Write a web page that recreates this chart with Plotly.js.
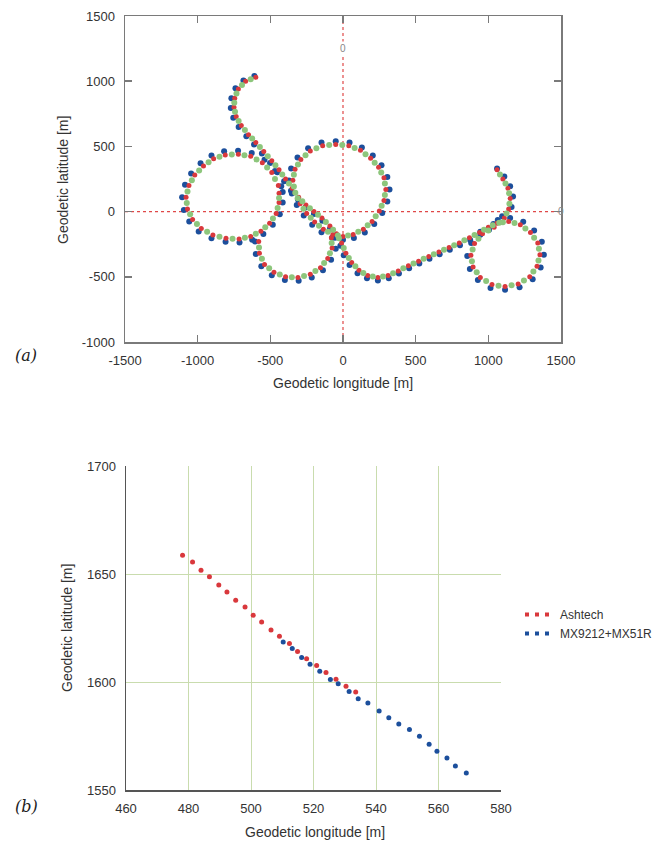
<!DOCTYPE html>
<html><head><meta charset="utf-8">
<script src="https://cdn.plot.ly/plotly-3.0.1.min.js"></script>
<style>html,body{margin:0;padding:0;background:#fff}#chart{width:672px;height:843px}</style>
</head><body><div id="chart"></div>
<script>
// ---- (a) trajectory, three receivers ----
const redX = [-600,-670,-720,-745,-750,-735,-700,-650,-600,-545,-490,-440,-395,-350,-305,-255,-200,-145,-90,-45,-10,
 20,60,110,170,240,310,380,450,520,590,660,730,800,870,940,1000,
 1060,1140,1220,1290,1340,1355,1335,1285,1205,1115,1025,945,895,880,905,960,1040,1110,1140,1150,1135,1100,1060,
 -345,-330,-290,-225,-140,-50,40,120,190,245,282,295,282,250,200,140,70,0,-70,-135,-195,-250,-295,-330,
 -445,-490,-555,-635,-720,-810,-890,-960,-1020,-1060,-1080,-1070,-1035,-975,-895,-805,-715,-635,-565,-505,-460,-440,-440,
 -580,-575,-540,-475,-395,-310,-225,-155,-105,-75,-80];
const redY = [1030,1000,940,870,800,730,660,590,530,460,390,320,250,180,110,50,0,-50,-110,-170,-240,
 -320,-390,-450,-490,-505,-490,-455,-415,-380,-345,-310,-275,-240,-200,-160,-120,
 -90,-75,-100,-160,-240,-330,-420,-500,-555,-575,-560,-505,-425,-335,-245,-170,-120,-50,20,100,180,250,320,
 240,325,400,465,505,515,505,470,410,340,260,170,85,5,-75,-135,-175,-190,-175,-135,-80,-15,60,145,
 200,300,375,425,440,435,405,350,280,200,110,20,-60,-130,-180,-205,-210,-190,-150,-90,-15,70,140,
 -230,-320,-405,-465,-500,-505,-480,-430,-360,-280,-200];

const greenX = [-635,-695,-733,-748,-743,-718,-675,-625,-572,-518,-465,-418,-372,-328,-280,-228,-172,-118,-68,-28,
 5,40,85,140,205,275,345,415,485,555,625,695,765,835,905,970,1030,
 1100,1180,1255,1315,1348,1345,1310,1245,1160,1070,985,920,887,892,932,1000,1075,1125,1145,1143,1118,1080,
 -338,-310,-258,-183,-95,-5,80,155,218,263,288,288,266,225,170,105,35,-35,-103,-165,-222,-272,-312,-338,
 -468,-522,-595,-678,-765,-850,-925,-990,-1040,-1070,-1075,-1052,-1005,-935,-850,-760,-675,-600,-535,-482,-450,-440,
 -578,-558,-508,-435,-352,-268,-190,-130,-90,-78];
const greenY = [1015,970,905,835,765,695,625,560,495,425,355,285,215,145,80,25,-25,-80,-140,-205,
 -280,-355,-420,-470,-498,-498,-473,-435,-398,-362,-328,-292,-258,-220,-180,-140,-105,
 -82,-88,-130,-200,-285,-375,-460,-528,-565,-568,-532,-465,-380,-290,-208,-145,-85,-15,60,140,215,285,
 282,362,432,485,510,510,488,440,375,300,215,128,45,-35,-105,-155,-183,-183,-155,-108,-48,22,102,192,
 250,338,400,433,438,420,378,315,240,155,65,-20,-95,-155,-193,-208,-200,-170,-120,-52,28,105,
 -275,-362,-435,-483,-503,-493,-455,-395,-320,-240];

const blueX = [-610,-685,-740,-768,-772,-755,-718,-665,-612,-558,-502,-452,-405,-358,-310,-258,-200,-142,-90,-48,-18,
 5,45,100,165,240,315,385,455,525,595,665,735,805,875,945,1005,
 1065,1150,1240,1315,1368,1382,1360,1305,1215,1115,1015,928,873,855,882,945,1035,1095,1160,1170,1150,1110,1060,
 -372,-357,-313,-240,-148,-50,45,130,205,265,305,320,305,270,215,150,75,0,-75,-148,-212,-270,-318,-352,
 -425,-468,-540,-628,-722,-818,-905,-980,-1045,-1087,-1107,-1095,-1058,-993,-905,-808,-712,-625,-548,-483,-435,-415,-415,
 -605,-600,-562,-490,-400,-305,-215,-138,-82,-50,-55];
const blueY = [1040,1005,945,870,795,720,648,578,515,445,372,302,232,160,92,32,-18,-70,-132,-195,-262,
 -335,-410,-472,-512,-528,-512,-475,-435,-398,-362,-328,-292,-258,-218,-178,-140,
 -65,-50,-78,-145,-232,-330,-428,-518,-580,-600,-585,-525,-440,-340,-240,-155,-95,-35,35,115,195,270,330,
 238,330,415,485,530,540,530,492,430,355,265,170,78,-10,-95,-160,-202,-215,-200,-158,-100,-30,50,138,
 195,312,398,450,467,462,430,370,292,205,110,12,-75,-152,-205,-232,-237,-215,-172,-100,-20,70,150,
 -230,-325,-420,-488,-525,-530,-505,-450,-370,-285,-200];

// ---- (b) zoomed detail ----
const ashX = [478.1,481.3,484.0,486.7,489.7,492.3,495.1,498.1,500.7,503.4,506.4,509.1,512.3,514.9,517.8,521.0,524.0,527.2,530.4,533.5];
const ashY = [1658.7,1655.6,1651.7,1648.7,1644.9,1641.7,1637.8,1634.7,1630.9,1627.8,1624.1,1621.2,1617.8,1614.1,1610.8,1607.6,1604.4,1601.3,1598.0,1595.4];
const mxX = [510.3,513.2,516.2,518.9,522.0,525.4,527.9,531.4,534.3,537.4,541.0,544.1,547.3,550.7,553.9,557.0,559.5,562.7,565.4,568.9];
const mxY = [1618.5,1615.5,1611.4,1608.2,1605.0,1601.2,1599.2,1595.6,1592.3,1590.3,1586.6,1583.5,1580.6,1578.0,1574.9,1571.2,1567.9,1564.8,1561.1,1557.9];

const seriesNames = ['Ashtech', 'MX9212+MX51R'];
const xTicksA = [-1500,-1000,-500,0,500,1000,1500];
const yTicksA = [-1000,-500,0,500,1000,1500];
const xTicksB = [460,480,500,520,540,560,580];
const yTicksB = [1550,1600,1650,1700];
const lbl = arr => arr.map(v => String(v)); // ASCII hyphen-minus like the original

const RED = '#d9383c', BLUE = '#1c4f9c', GREEN = '#8dc67c';
const W = 672, H = 843;
const px = v => v / W, py = v => (H - v) / H;
const FONT = 'Liberation Sans, Arial, sans-serif';

const traces = [
  {x: blueX, y: blueY, xaxis: 'x', yaxis: 'y', mode: 'markers', type: 'scatter', showlegend: false,
   marker: {color: BLUE, size: 6}},
  {x: redX, y: redY, xaxis: 'x', yaxis: 'y', mode: 'markers', type: 'scatter', showlegend: false,
   marker: {color: RED, size: 5}},
  {x: greenX, y: greenY, xaxis: 'x', yaxis: 'y', mode: 'markers', type: 'scatter', showlegend: false,
   marker: {color: GREEN, size: 6}},
  {x: ashX, y: ashY, xaxis: 'x2', yaxis: 'y2', mode: 'markers', type: 'scatter', showlegend: false,
   marker: {color: RED, size: 5}},
  {x: mxX, y: mxY, xaxis: 'x2', yaxis: 'y2', mode: 'markers', type: 'scatter', showlegend: false,
   marker: {color: BLUE, size: 5}},
  {x: [null], y: [null], xaxis: 'x2', yaxis: 'y2', mode: 'lines', type: 'scatter', name: seriesNames[0],
   line: {color: RED, width: 4, dash: '4px,6px'}},
  {x: [null], y: [null], xaxis: 'x2', yaxis: 'y2', mode: 'lines', type: 'scatter', name: seriesNames[1],
   line: {color: BLUE, width: 4, dash: '4px,6px'}}
];

const tickFont = {family: FONT, size: 13, color: '#333'};
const frameA = {showline: true, linecolor: '#7a7a7a', linewidth: 1.5, mirror: 'ticks', ticks: 'inside',
  ticklen: 7, tickcolor: '#7a7a7a', tickwidth: 1.5, showgrid: false, zeroline: false, tickfont: tickFont,
  ticklabelstandoff: 6};

const ann = (text, x, y, extra) => Object.assign({text: text, xref: 'paper', yref: 'paper', x: px(x), y: py(y),
  xanchor: 'center', yanchor: 'middle', showarrow: false, font: {family: FONT, size: 14, color: '#333'}}, extra || {});

const layout = {
  width: W, height: H, margin: {l: 0, r: 0, t: 0, b: 0},
  paper_bgcolor: '#fff', plot_bgcolor: '#fff', font: {family: FONT},
  xaxis: Object.assign({}, frameA, {domain: [px(125), px(561)], range: [-1500, 1500],
    tickvals: xTicksA, ticktext: lbl(xTicksA), anchor: 'y'}),
  yaxis: Object.assign({}, frameA, {domain: [py(342), py(16)], range: [-1000, 1500],
    tickvals: yTicksA, ticktext: lbl(yTicksA), anchor: 'x'}),
  xaxis2: {domain: [px(126), px(501)], range: [460, 580], tickvals: xTicksB, ticktext: lbl(xTicksB), anchor: 'y2',
    showline: true, linecolor: '#555', linewidth: 1.5, ticks: '', showgrid: true, gridcolor: '#c9dcae',
    gridwidth: 1, zeroline: false, tickfont: tickFont, ticklabelstandoff: 6},
  yaxis2: {domain: [py(790), py(466)], range: [1550, 1700], tickvals: yTicksB, ticktext: lbl(yTicksB), anchor: 'x2',
    showline: true, linecolor: '#555', linewidth: 1.5, ticks: '', showgrid: true, gridcolor: '#c9dcae',
    gridwidth: 1, zeroline: false, tickfont: tickFont, ticklabelstandoff: 6},
  shapes: [
    {type: 'line', xref: 'x', yref: 'y', x0: 0, x1: 0, y0: -1000, y1: 1500,
     line: {color: '#e04848', width: 1.2, dash: 'dot'}, layer: 'below'},
    {type: 'line', xref: 'x', yref: 'y', x0: -1500, x1: 1500, y0: 0, y1: 0,
     line: {color: '#e04848', width: 1.2, dash: 'dot'}, layer: 'below'}
  ],
  legend: {x: px(520), y: py(600), xanchor: 'left', yanchor: 'top', bgcolor: 'rgba(0,0,0,0)',
    font: {family: FONT, size: 12, color: '#333'}, tracegroupgap: 0, itemwidth: 30},
  annotations: [
    ann('Geodetic longitude [m]', 343, 383),
    ann('Geodetic latitude [m]', 63, 180, {textangle: -90}),
    ann('Geodetic longitude [m]', 315, 832),
    ann('Geodetic latitude [m]', 67, 628, {textangle: -90}),
    ann('<i>(a)</i>', 26, 355, {font: {family: 'DejaVu Serif, Liberation Serif, serif', size: 16, color: '#222'}}),
    ann('<i>(b)</i>', 26, 806, {font: {family: 'DejaVu Serif, Liberation Serif, serif', size: 16, color: '#222'}}),
    {text: '0', xref: 'x', yref: 'y', x: 0, y: 1250, showarrow: false, bgcolor: '#fff',
     font: {family: FONT, size: 10, color: '#888'}},
    {text: '0', xref: 'x', yref: 'y', x: 1500, y: 0, showarrow: false,
     font: {family: FONT, size: 10, color: '#888'}}
  ]
};

Plotly.newPlot('chart', traces, layout, {displayModeBar: false, staticPlot: true});
</script></body></html>
